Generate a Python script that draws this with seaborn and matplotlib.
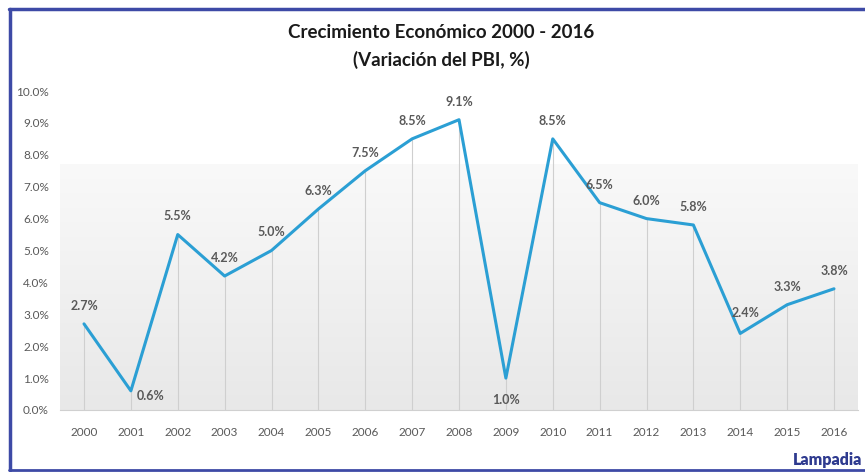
import numpy as np
import pandas as pd
import matplotlib.pyplot as plt
import seaborn as sns
from matplotlib.colors import LinearSegmentedColormap
from matplotlib.lines import Line2D

# Crecimiento del PBI, %
years = ['2000', '2001', '2002', '2003', '2004', '2005', '2006', '2007', '2008',
         '2009', '2010', '2011', '2012', '2013', '2014', '2015', '2016']
growth = [2.7, 0.6, 5.5, 4.2, 5.0, 6.3, 7.5, 8.5, 9.1,
          1.0, 8.5, 6.5, 6.0, 5.8, 2.4, 3.3, 3.8]
y_ticks = [0, 1, 2, 3, 4, 5, 6, 7, 8, 9, 10]

df = pd.DataFrame({'year': years, 'growth': growth})
df['pos'] = range(len(df))

sns.set_style('white')
plt.rcParams['font.family'] = ['Lato', 'DejaVu Sans']

fig = plt.figure(figsize=(8.65, 4.72), dpi=100)
ax = fig.add_axes([60 / 865, 1 - 410 / 472, 798 / 865, 319 / 472])

# soft grey gradient behind the lower part of the plot
grad = np.linspace(0, 1, 256).reshape(-1, 1)
cmap = LinearSegmentedColormap.from_list('bg', ['#e8e8e8', '#f9f9f9'])
ax.imshow(grad, cmap=cmap, extent=[-0.512, 16.512, 0, 7.7], aspect='auto',
          origin='lower', vmin=0, vmax=1, zorder=0)

ax.vlines(df['pos'], 0, df['growth'], color='#cfcfcf', lw=0.8, zorder=1)
sns.lineplot(data=df, x='pos', y='growth', color='#2b9fd4', lw=2.2, ax=ax, zorder=3)

# label offsets (points)
offsets = {1: (14, -4), 9: (0, -16), 14: (4, 15)}
for i, v in enumerate(growth):
    dx, dy = offsets.get(i, (0, 13))
    ax.annotate(f'{v:.1f}%', (i, v), xytext=(dx, dy), textcoords='offset points',
                ha='center', va='center', fontsize=9, fontweight='bold',
                color='#595959', zorder=4)

ax.set_xlim(-0.512, 16.512)
ax.set_ylim(0, 10)
ax.set_xticks(range(len(years)))
ax.set_xticklabels(years)
ax.set_yticks(y_ticks)
ax.set_yticklabels([f'{t:.1f}%' for t in y_ticks])
ax.tick_params(axis='both', labelsize=8.5, colors='#595959', length=0)
ax.tick_params(axis='x', pad=12)
ax.tick_params(axis='y', pad=8)
ax.set_xlabel('')
ax.set_ylabel('')
for s in ['top', 'right', 'left']:
    ax.spines[s].set_visible(False)
ax.spines['bottom'].set_color('#d0d0d0')
ax.set_facecolor('white')

fig.text(441 / 865, 1 - 33 / 472, 'Crecimiento Económico 2000 - 2016', ha='center',
         va='center', fontsize=13.5, fontweight='bold', color='#1a1a1a')
fig.text(441 / 865, 1 - 60 / 472, '(Variación del PBI, %)', ha='center',
         va='center', fontsize=13.5, fontweight='bold', color='#1a1a1a')

# blue frame
frame = '#3d4aa6'
fig.add_artist(Line2D([10 / 865, 10 / 865], [1 - 470 / 472, 1 - 9 / 472],
                      transform=fig.transFigure, color=frame, lw=2.5))
fig.add_artist(Line2D([9 / 865, 1], [1 - 9 / 472, 1 - 9 / 472],
                      transform=fig.transFigure, color=frame, lw=2.5))
fig.add_artist(Line2D([9 / 865, 1], [1 - 470 / 472, 1 - 470 / 472],
                      transform=fig.transFigure, color=frame, lw=2))
fig.text(862 / 865, 1 - 460 / 472, 'Lampadia', ha='right', va='center',
         fontsize=11.5, fontweight='heavy', color='#2e3a8f')

fig.savefig('out.png', dpi=100)
